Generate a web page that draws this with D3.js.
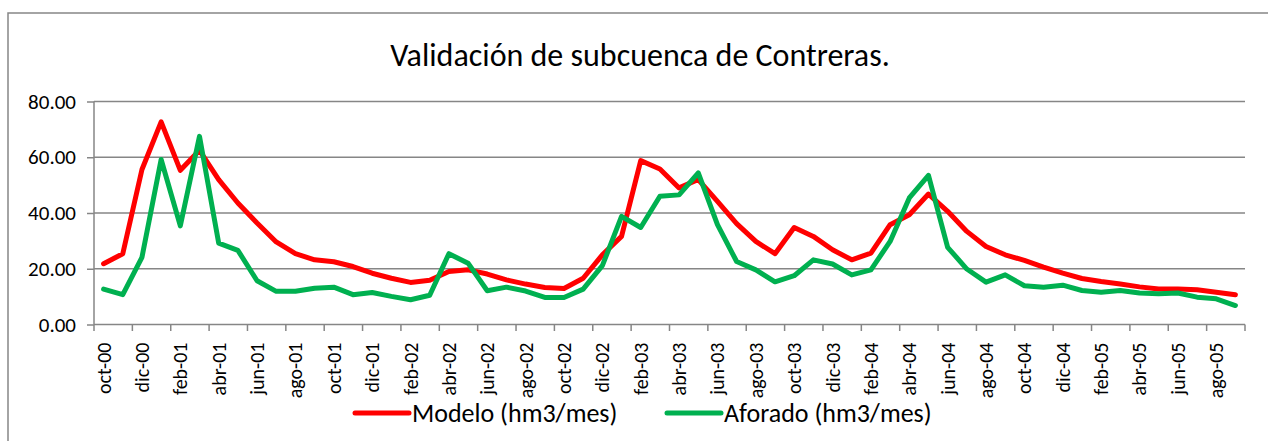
<!DOCTYPE html>
<html>
<head>
<meta charset="utf-8">
<script src="https://cdn.jsdelivr.net/npm/d3@7"></script>
<style>
	body { margin: 0; background: #fff; }
	svg text { font-family: Carlito, Calibri, Lato, "Noto Sans", sans-serif; fill: #000; }
</style>
</head>
<body>
<div id="chart"></div>
<script>
// months oct-00 .. sep-05
var monthNames = ["oct", "nov", "dic", "ene", "feb", "mar", "abr", "may", "jun", "jul", "ago", "sep"];
var months = [];
for (var i = 0; i < 60; i++) {
	var yr = (i + 9) / 12 | 0; // oct-00 starts year 0
	months.push(monthNames[i % 12] + "-0" + yr);
}

var modelo = [
	21.8, 25.4, 55.6, 72.7, 55.3, 62.5, 52.0, 43.6, 36.4, 29.6, 25.4, 23.2,
	22.5, 20.8, 18.4, 16.6, 15.1, 15.9, 19.0, 19.6, 18.1, 16.0, 14.5, 13.3,
	12.9, 16.6, 25.0, 31.6, 58.8, 55.8, 49.0, 52.0, 44.2, 36.2, 29.8, 25.4,
	34.8, 31.6, 26.8, 23.2, 25.6, 35.8, 39.4, 46.8, 40.6, 33.4, 28.0, 25.0,
	23.0, 20.6, 18.4, 16.5, 15.4, 14.5, 13.5, 12.7, 12.7, 12.5, 11.6, 10.7
];
var aforado = [
	12.7, 10.7, 24.1, 59.2, 35.4, 67.5, 29.2, 26.6, 15.7, 11.9, 11.9, 13.0,
	13.4, 10.7, 11.5, 10.1, 8.9, 10.5, 25.4, 22.0, 12.1, 13.4, 12.0, 9.7,
	9.7, 12.7, 21.1, 38.8, 34.8, 46.0, 46.5, 54.4, 35.8, 22.6, 19.6, 15.3,
	17.5, 23.2, 21.7, 17.8, 19.6, 29.8, 45.4, 53.5, 27.7, 19.9, 15.2, 17.8,
	13.9, 13.4, 14.1, 12.2, 11.6, 12.2, 11.3, 11.0, 11.3, 9.8, 9.2, 6.8
];
var yTicks = [0, 20, 40, 60, 80];
var seriesNames = ["Modelo (hm3/mes)", "Aforado (hm3/mes)"];
var seriesColors = ["#ff0000", "#00b050"];

var W = 1268, H = 441;
var plotL = 94, plotR = 1245, plotT = 101.5, plotB = 324.5;

var svg = d3.select("#chart").append("svg")
	.attr("width", W)
	.attr("height", H);

// chart frame
svg.append("rect")
	.attr("x", 8).attr("y", 13)
	.attr("width", W + 20).attr("height", H + 20)
	.attr("fill", "none")
	.attr("stroke", "#868686")
	.attr("stroke-width", 1.5);

var x = d3.scaleBand().domain(months).range([plotL, plotR]).padding(0);
var y = d3.scaleLinear().domain([0, 80]).range([plotB, plotT]);

// grid lines
svg.append("g").selectAll("line")
	.data(yTicks.filter(function(d) { return d > 0; }))
	.enter().append("line")
	.attr("x1", plotL).attr("x2", plotR)
	.attr("y1", function(d) { return y(d); })
	.attr("y2", function(d) { return y(d); })
	.attr("stroke", "#868686")
	.attr("stroke-width", 1.5);

// Y axis
var yAxis = svg.append("g")
	.attr("transform", "translate(" + plotL + ",0)")
	.call(d3.axisLeft(y).tickValues(yTicks).tickFormat(d3.format(".2f")).tickSize(7).tickPadding(11));
yAxis.select(".domain").remove();
yAxis.selectAll("line").attr("stroke", "#868686").attr("stroke-width", 1.5);
yAxis.append("line")
	.attr("y1", plotT).attr("y2", plotB)
	.attr("stroke", "#868686").attr("stroke-width", 1.5);
yAxis.selectAll("text").style("font-size", "21px");

// X axis: tick marks every 2 months on category boundaries
var xg = svg.append("g");
xg.append("line")
	.attr("x1", plotL).attr("x2", plotR)
	.attr("y1", plotB).attr("y2", plotB)
	.attr("stroke", "#868686").attr("stroke-width", 1.5);
var tickPos = months.filter(function(d, i) { return i % 2 == 0; }).map(function(d) { return x(d); });
tickPos.push(plotR);
xg.selectAll("line.tk")
	.data(tickPos)
	.enter().append("line")
	.attr("class", "tk")
	.attr("x1", function(d) { return d; })
	.attr("x2", function(d) { return d; })
	.attr("y1", plotB).attr("y2", plotB + 6.5)
	.attr("stroke", "#868686").attr("stroke-width", 1.5);

xg.selectAll("text")
	.data(months.filter(function(d, i) { return i % 2 == 0; }))
	.enter().append("text")
	.attr("transform", function(d) {
		return "translate(" + (x(d) + x.bandwidth() / 2) + "," + (plotB + 18) + ")rotate(-90)";
	})
	.attr("dy", "0.35em")
	.attr("text-anchor", "end")
	.style("font-size", "20px")
	.text(function(d) { return d; });

// lines
var line = d3.line()
	.x(function(d, i) { return x(months[i]) + x.bandwidth() / 2; })
	.y(function(d) { return y(d); });

[modelo, aforado].forEach(function(s, k) {
	svg.append("path")
		.datum(s)
		.attr("d", line)
		.attr("fill", "none")
		.attr("stroke", seriesColors[k])
		.attr("stroke-width", 5)
		.attr("stroke-linejoin", "round")
		.attr("stroke-linecap", "round");
});

// title
svg.append("text")
	.attr("x", 640)
	.attr("y", 66)
	.attr("text-anchor", "middle")
	.style("font-size", "32px")
	.text("Validación de subcuenca de Contreras.");

// legend
var legX = [355, 667];
seriesNames.forEach(function(n, k) {
	var g = svg.append("g").attr("transform", "translate(" + legX[k] + ",413)");
	g.append("line")
		.attr("x1", 0).attr("x2", 54)
		.attr("stroke", seriesColors[k])
		.attr("stroke-width", 5)
		.attr("stroke-linecap", "round");
	g.append("text")
		.attr("x", 57)
		.attr("dy", "0.35em")
		.style("font-size", "26px")
		.text(n);
});
</script>
</body>
</html>
